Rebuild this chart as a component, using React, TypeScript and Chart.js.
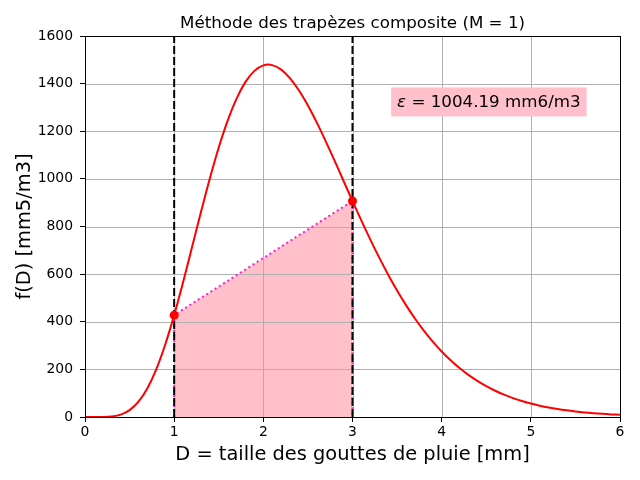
import { useEffect, useRef } from 'react';
import { Chart, registerables } from 'chart.js';

Chart.register(...registerables);

// Drop diameter D [mm] and f(D) [mm5/m3]
const diameters = [
  0, 0.1, 0.2, 0.3, 0.4, 0.5, 0.6, 0.7, 0.8, 0.9,
  1, 1.1, 1.2, 1.3, 1.4, 1.5, 1.6, 1.7, 1.8, 1.9,
  2, 2.1, 2.2, 2.3, 2.4, 2.5, 2.6, 2.7, 2.8, 2.9,
  3, 3.1, 3.2, 3.3, 3.4, 3.5, 3.6, 3.7, 3.8, 3.9,
  4, 4.1, 4.2, 4.3, 4.4, 4.5, 4.6, 4.7, 4.8, 4.9,
  5, 5.1, 5.2, 5.3, 5.4, 5.5, 5.6, 5.7, 5.8, 5.9, 6,
];
const fValues = [
  0, 0, 0.3, 2.4, 10.1, 28.8, 64.2, 120.9, 201.1, 304.5,
  427.8, 566, 712.4, 859.9, 1001.7, 1131.7, 1244.7, 1337.3, 1407.2, 1453.6,
  1476.6, 1477.8, 1458.9, 1422.3, 1371.2, 1308.2, 1236.1, 1157.7, 1075.3, 991.2,
  907.2, 824.8, 745.1, 669.3, 597.8, 531.2, 469.8, 413.5, 362.4, 316.3,
  274.9, 238.1, 205.4, 176.7, 151.5, 129.4, 110.3, 93.7, 79.4, 67.1,
  56.6, 47.6, 39.9, 33.4, 27.9, 23.3, 19.4, 16.1, 13.3, 11, 9.1,
];

// Trapezoid nodes (M = 1)
const nodeX = [1, 3];
const nodeY = [427.8, 907.2];

const xTicks = [0, 1, 2, 3, 4, 5, 6];
const yTicks = [0, 200, 400, 600, 800, 1000, 1200, 1400, 1600];

const titleText = 'Méthode des trapèzes composite (M = 1)';
const xLabel = 'D = taille des gouttes de pluie [mm]';
const yLabel = 'f(D) [mm5/m3]';
const epsLabel = ' = 1004.19 mm6/m3';
const epsPos = { x: 3.5, y: 1300 };

const FONT = '"DejaVu Sans", sans-serif';

const overlay = {
  id: 'overlay',
  beforeDatasetsDraw(chart: any) {
    const { ctx, chartArea: a, scales } = chart;
    ctx.save();
    ctx.strokeStyle = '#b0b0b0';
    ctx.lineWidth = 1;
    ctx.beginPath();
    xTicks.forEach(v => {
      const px = Math.round(scales.x.getPixelForValue(v)) + 0.5;
      ctx.moveTo(px, a.top);
      ctx.lineTo(px, a.bottom);
    });
    yTicks.forEach(v => {
      const py = Math.round(scales.y.getPixelForValue(v)) + 0.5;
      ctx.moveTo(a.left, py);
      ctx.lineTo(a.right, py);
    });
    ctx.stroke();
    ctx.restore();
  },
  afterDatasetsDraw(chart: any) {
    const { ctx, chartArea: a, scales } = chart;
    ctx.save();
    // spines
    ctx.strokeStyle = '#000';
    ctx.lineWidth = 1;
    ctx.strokeRect(Math.round(a.left) + 0.5, Math.round(a.top) + 0.5, Math.round(a.right - a.left), Math.round(a.bottom - a.top));

    // error annotation
    const tx = scales.x.getPixelForValue(epsPos.x);
    const ty = scales.y.getPixelForValue(epsPos.y);
    ctx.font = `italic 16.7px ${FONT}`;
    const w1 = ctx.measureText('ε').width;
    ctx.font = `16.7px ${FONT}`;
    const w2 = ctx.measureText(epsLabel).width;
    ctx.fillStyle = '#ffc0cb';
    ctx.fillRect(tx - 6, ty - 20, w1 + w2 + 12, 29);
    ctx.fillStyle = '#000';
    ctx.textBaseline = 'alphabetic';
    ctx.textAlign = 'left';
    ctx.font = `italic 16.7px ${FONT}`;
    ctx.fillText('ε', tx, ty);
    ctx.font = `16.7px ${FONT}`;
    ctx.fillText(epsLabel, tx + w1, ty);

    // title
    ctx.textAlign = 'center';
    ctx.fillText(titleText, (a.left + a.right) / 2, 28);
    ctx.restore();
  },
};

export default function App() {
  const canvasRef = useRef<HTMLCanvasElement>(null);

  useEffect(() => {
    document.body.style.margin = '0';
    if (!canvasRef.current) return;

    const curve = diameters.map((d, i) => ({ x: d, y: fValues[i] }));
    const nodes = nodeX.map((d, i) => ({ x: d, y: nodeY[i] }));
    const outline = [
      { x: nodeX[0], y: 0 },
      nodes[0],
      nodes[1],
      { x: nodeX[1], y: 0 },
    ];

    const chart = new Chart(canvasRef.current, {
      type: 'line',
      data: {
        datasets: [
          {
            data: nodes,
            showLine: false,
            pointRadius: 4.5,
            pointBackgroundColor: '#ff0000',
            pointBorderWidth: 0,
            order: 0,
          },
          {
            data: curve,
            borderColor: '#ff0000',
            borderWidth: 2,
            pointRadius: 0,
            tension: 0.3,
            order: 1,
          },
          {
            data: [{ x: nodeX[0], y: 0 }, { x: nodeX[0], y: 1600 }],
            borderColor: '#000',
            borderWidth: 2,
            borderDash: [8, 3],
            pointRadius: 0,
            order: 2,
          },
          {
            data: [{ x: nodeX[1], y: 0 }, { x: nodeX[1], y: 1600 }],
            borderColor: '#000',
            borderWidth: 2,
            borderDash: [8, 3],
            pointRadius: 0,
            order: 2,
          },
          {
            data: outline,
            borderColor: '#ff20c0',
            borderWidth: 2,
            borderDash: [2, 3],
            pointRadius: 0,
            order: 3,
          },
          {
            data: nodes,
            borderWidth: 0,
            pointRadius: 0,
            backgroundColor: '#ffc0cb',
            fill: 'origin',
            order: 4,
          },
        ],
      },
      options: {
        responsive: false,
        animation: false,
        devicePixelRatio: 1,
        layout: { padding: { top: 36, right: 20, left: 0, bottom: 0 } },
        plugins: {
          legend: { display: false },
          tooltip: { enabled: false },
          filler: { drawTime: 'beforeDatasetsDraw' },
        },
        scales: {
          x: {
            type: 'linear',
            min: 0,
            max: 6,
            afterFit: (s: any) => { s.height = 63; },
            ticks: { stepSize: 1, color: '#000', padding: 2, font: { family: FONT, size: 13.9 }, callback: (v: any) => String(v) },
            grid: { drawOnChartArea: false, drawTicks: true, tickLength: 5, tickColor: '#000' },
            border: { display: false },
            title: {
              display: true,
              text: xLabel,
              color: '#000',
              font: { family: FONT, size: 19.4, lineHeight: 1.2 },
              padding: { top: 0, bottom: 13 },
            },
          },
          y: {
            type: 'linear',
            min: 0,
            max: 1600,
            afterFit: (s: any) => { s.width = 85; },
            ticks: { stepSize: 200, color: '#000', padding: 7, font: { family: FONT, size: 13.9 }, callback: (v: any) => String(v) },
            grid: { drawOnChartArea: false, drawTicks: true, tickLength: 5, tickColor: '#000' },
            border: { display: false },
            title: {
              display: true,
              text: yLabel,
              color: '#000',
              font: { family: FONT, size: 19.4, lineHeight: 1.2 },
              padding: { top: 13, bottom: 0 },
            },
          },
        },
      },
      plugins: [overlay],
    });

    return () => chart.destroy();
  }, []);

  return (
    <div style={{ width: 640, height: 480 }}>
      <canvas ref={canvasRef} width={640} height={480} />
    </div>
  );
}
